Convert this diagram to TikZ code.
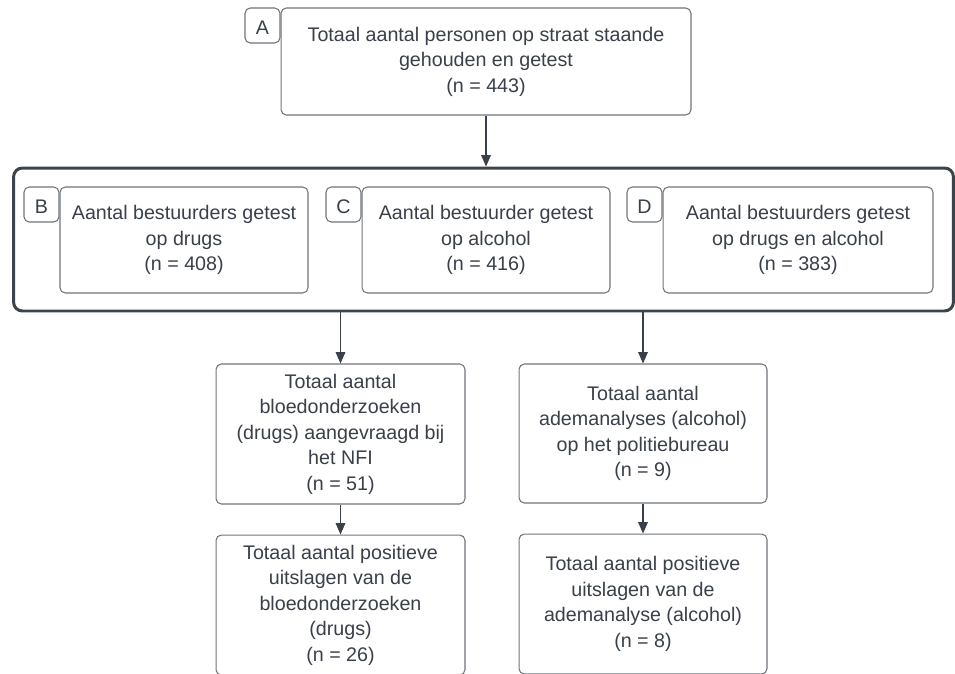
\documentclass[tikz,border=0pt]{standalone}
\usepackage{fontspec}
\setmainfont{Liberation Sans}
\usetikzlibrary{positioning, arrows.meta}
\definecolor{ink}{HTML}{3A404A}
\definecolor{rand}{HTML}{70747A}
\definecolor{kader}{HTML}{3D434B}

\begin{document}
\begin{tikzpicture}[x=0.02cm, y=-0.02cm,
      vak/.style={draw=rand, line width=0.6pt, rounded corners=3pt,
        fill=white, text=ink, align=center, inner sep=0pt,
        font=\fontsize{11.2}{14.5}\selectfont},
      tab/.style={draw=rand, line width=0.6pt, rounded corners=3pt,
        fill=white, text=ink, inner sep=0pt, anchor=north east,
        font=\fontsize{11.2}{12}\selectfont,
        minimum width=0.7cm, minimum height=0.7cm,
        text height=15pt, text depth=4.8pt},
      groep/.style={draw=kader, line width=1.7pt, rounded corners=5pt,
        minimum width=18.8cm, minimum height=2.86cm},
      pijl/.style={-{Triangle[length=6.5pt, width=5.5pt]}, ink, line width=0.6pt}]
    \useasboundingbox (0,0) rectangle (955,673);
    % bovenste vak
    \node[vak, minimum width=8.2cm, minimum height=2.14cm] (a) at (486,61.5)
      {Totaal aantal personen op straat staande\\gehouden en getest\\(n = 443)};
    \node[tab] (ta) at (a.north west) {A};
    % kader met B, C en D
    \node[groep] (grp) at (483.5,239.5) {};
    \node[vak, minimum width=4.96cm, minimum height=2.12cm] (b) at (184,240)
      {Aantal bestuurders getest\\op drugs\\(n = 408)};
    \node[tab] (tb) at (b.north west) {B};
    \node[vak, minimum width=4.96cm, minimum height=2.12cm] (c) at (486,240)
      {Aantal bestuurder getest\\op alcohol\\(n = 416)};
    \node[tab] (tc) at (c.north west) {C};
    \node[vak, minimum width=5.4cm, minimum height=2.12cm] (d) at (798,240)
      {Aantal bestuurders getest\\op drugs en alcohol\\(n = 383)};
    \node[tab] (td) at (d.north west) {D};
    % onderzoeken
    \node[vak, minimum width=4.98cm, minimum height=2.8cm] (e) at (340.5,434)
      {Totaal aantal\\bloedonderzoeken\\(drugs) aangevraagd bij\\het NFI\\(n = 51)};
    \node[vak, minimum width=4.96cm, minimum height=2.78cm] (f) at (643,433.5)
      {Totaal aantal\\ademanalyses (alcohol)\\op het politiebureau\\(n = 9)};
    % uitslagen
    \node[vak, minimum width=4.98cm, minimum height=2.8cm, below=0.6cm of e] (g)
      {Totaal aantal positieve\\uitslagen van de\\bloedonderzoeken\\(drugs)\\(n = 26)};
    \node[vak, minimum width=4.96cm, minimum height=2.8cm, below=0.6cm of f] (h)
      {Totaal aantal positieve\\uitslagen van de\\ademanalyse (alcohol)\\(n = 8)};
    \draw[pijl] (a) -- (a |- grp.north);
    \draw[pijl] (grp.south -| e) -- (e);
    \draw[pijl] (grp.south -| f) -- (f);
    \draw[pijl] (e) -- (g);
    \draw[pijl] (f) -- (h);
  \end{tikzpicture}
\end{document}
